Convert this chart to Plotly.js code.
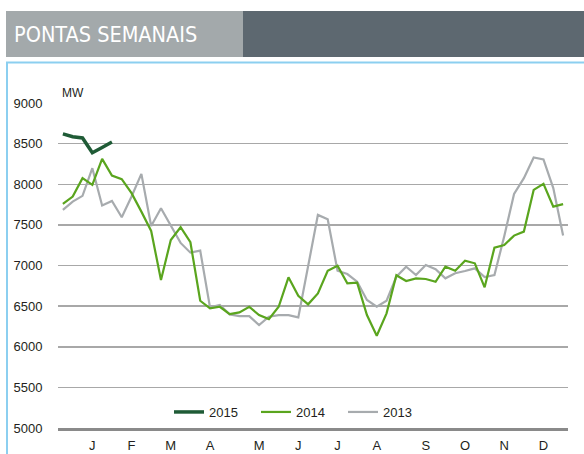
<!DOCTYPE html>
<html>
<head>
<meta charset="utf-8">
<script src="https://cdn.plot.ly/plotly-3.0.1.min.js"></script>
<style>
  html, body { margin: 0; padding: 0; background: #ffffff; }
  #chart { width: 584px; height: 454px; }
</style>
</head>
<body>
<div id="chart"></div>
<script>
// ---- data ----
const weeks = Array.from({length: 52}, (_, i) => i + 1);
const monthTickWeeks = [4, 8, 12, 16, 21, 25, 29, 33, 38, 42, 46, 50];
const monthLabels = ["J", "F", "M", "A", "M", "J", "J", "A", "S", "O", "N", "D"];

const values2015 = [8620, 8585, 8570, 8388, 8452, 8519];

const values2014 = [7757, 7848, 8075, 7993, 8313, 8107, 8062, 7890, 7663, 7425,
                    6821, 7314, 7471, 7286, 6566, 6472, 6492, 6402, 6423, 6492,
                    6389, 6340, 6492, 6855, 6628, 6522, 6657, 6936, 6998, 6780,
                    6788, 6390, 6135, 6411, 6880, 6809, 6842, 6834, 6800, 6985,
                    6936, 7059, 7027, 6731, 7220, 7253, 7368, 7417, 7930, 8005,
                    7725, 7755];

const values2013 = [7684, 7787, 7857, 8198, 7738, 7795, 7594, 7849, 8128, 7487,
                    7705, 7500, 7278, 7158, 7183, 6485, 6513, 6398, 6377, 6377,
                    6266, 6369, 6389, 6389, 6361, 6990, 7623, 7570, 6936, 6895,
                    6800, 6575, 6492, 6566, 6862, 6985, 6883, 7006, 6955, 6842,
                    6904, 6932, 6965, 6858, 6882, 7360, 7880, 8075, 8330, 8305,
                    7952, 7370];

const yTicks = [5000, 5500, 6000, 6500, 7000, 7500, 8000, 8500, 9000];

// ---- layout helpers (pixel -> paper) ----
const W = 584, H = 454;
const M = {l: 58, r: 16, t: 103, b: 26};
const PW = W - M.l - M.r, PH = H - M.t - M.b;
const px = x => (x - M.l) / PW;
const py = y => (H - M.b - y) / PH;

const fontMain = "'Liberation Sans', Arial, 'DejaVu Sans', sans-serif";

const traces = [
  {x: weeks.slice(0, values2013.length), y: values2013, name: "2013", type: "scatter", mode: "lines",
   line: {color: "#a7abae", width: 2.2}},
  {x: weeks.slice(0, values2014.length), y: values2014, name: "2014", type: "scatter", mode: "lines",
   line: {color: "#5aa51e", width: 2.2}},
  {x: weeks.slice(0, values2015.length), y: values2015, name: "2015", type: "scatter", mode: "lines",
   line: {color: "#1f5b36", width: 3.5}}
];

const layout = {
  width: W, height: H,
  margin: M,
  paper_bgcolor: "#ffffff",
  plot_bgcolor: "#ffffff",
  showlegend: true,
  font: {family: fontMain, size: 13, color: "#231f20"},
  xaxis: {
    range: [0.5, 52.5],
    tickmode: "array",
    tickvals: monthTickWeeks,
    ticktext: monthLabels,
    showgrid: false,
    zeroline: false,
    showline: true,
    linecolor: "#8a8a8a",
    linewidth: 2.5,
    ticks: "outside", ticklen: 4, tickcolor: "rgba(0,0,0,0)",
    tickfont: {family: fontMain, size: 13, color: "#231f20"},
    fixedrange: true
  },
  yaxis: {
    range: [5000, 9000],
    tickmode: "array",
    tickvals: yTicks,
    showgrid: true,
    gridcolor: "#a8a8a8",
    gridwidth: 1.5,
    zeroline: false,
    showline: false,
    ticks: "outside", ticklen: 12, tickcolor: "rgba(0,0,0,0)",
    tickfont: {family: fontMain, size: 13, color: "#231f20"},
    fixedrange: true
  },
  legend: {
    orientation: "h",
    traceorder: "reversed",
    x: px(169), xanchor: "left",
    y: py(412), yanchor: "middle",
    bgcolor: "rgba(0,0,0,0)",
    borderwidth: 0,
    entrywidth: 42, entrywidthmode: "pixels",
    font: {family: fontMain, size: 13, color: "#231f20"}
  },
  shapes: [
    {type: "rect", xref: "paper", yref: "paper", x0: px(6), x1: px(243), y0: py(57), y1: py(11),
     fillcolor: "#a3a9ab", line: {width: 0}, layer: "below"},
    {type: "rect", xref: "paper", yref: "paper", x0: px(243), x1: px(590), y0: py(57), y1: py(11),
     fillcolor: "#5d6870", line: {width: 0}, layer: "below"},
    {type: "line", xref: "paper", yref: "paper", x0: px(6), x1: px(590), y0: py(62.5), y1: py(62.5),
     line: {color: "#8ccff0", width: 2}},
    {type: "line", xref: "paper", yref: "paper", x0: px(7), x1: px(7), y0: py(62), y1: py(460),
     line: {color: "#8ccff0", width: 2}}
  ],
  annotations: [
    {text: "PONTAS SEMANAIS", xref: "paper", yref: "paper", x: px(12), y: py(35),
     xanchor: "left", yanchor: "middle", showarrow: false,
     font: {family: "'Liberation Sans Narrow', 'DejaVu Sans Condensed', 'Arial Narrow', sans-serif", size: 21.5, color: "#ffffff"}},
    {text: "MW", xref: "paper", yref: "paper", x: px(60), y: py(93),
     xanchor: "left", yanchor: "middle", showarrow: false,
     font: {family: fontMain, size: 12, color: "#231f20"}}
  ]
};

Plotly.newPlot("chart", traces, layout, {displayModeBar: false, staticPlot: true});
</script>
</body>
</html>
